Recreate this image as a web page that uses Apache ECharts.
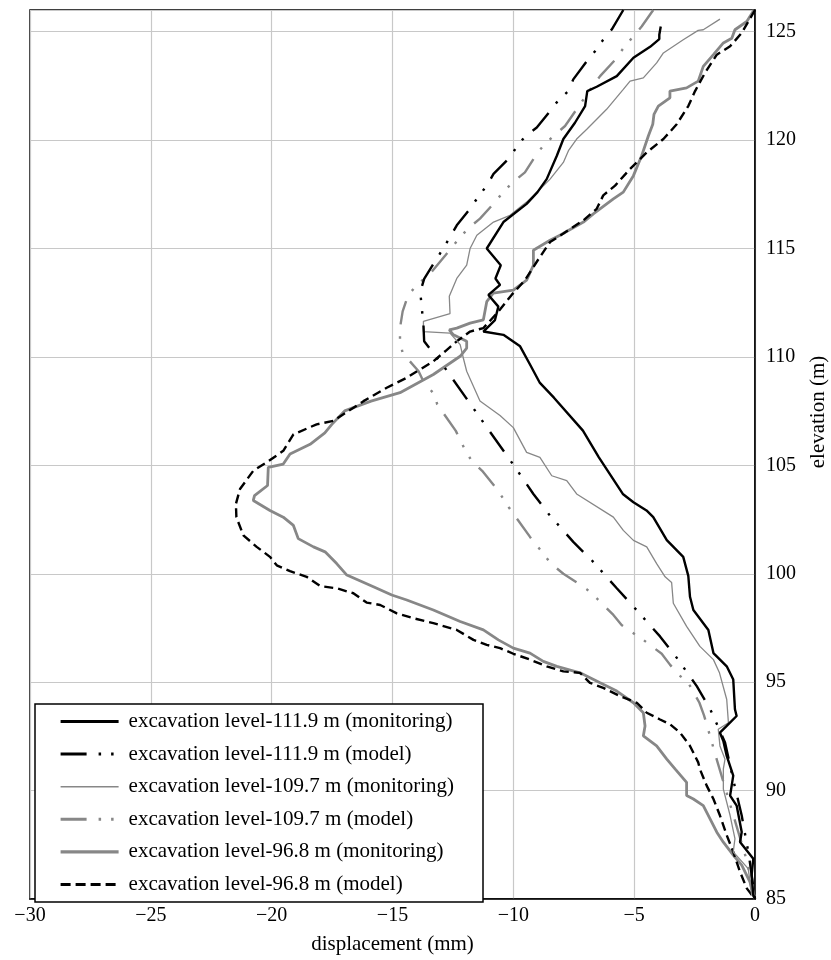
<!DOCTYPE html>
<html>
<head>
<meta charset="utf-8">
<script src="https://cdn.jsdelivr.net/npm/echarts@6/dist/echarts.min.js"></script>
<style>
html,body{margin:0;padding:0;background:#fff;}
#chart{width:831px;height:960px;}
</style>
</head>
<body>
<div id="chart"></div>
<script>
// Series data: [displacement (mm), elevation (m)]
const seriesNames = [
  'excavation level-111.9 m (monitoring)',
  'excavation level-111.9 m (model)',
  'excavation level-109.7 m (monitoring)',
  'excavation level-109.7 m (model)',
  'excavation level-96.8 m (monitoring)',
  'excavation level-96.8 m (model)'
];

const mon111 = [[-3.90,125.24],[-3.96,124.86],[-3.96,124.66],[-4.34,124.3],[-5.03,123.8],[-5.72,122.95],[-6.55,122.46],[-6.94,122.26],[-7.03,121.57],[-7.45,120.8],[-7.93,120.05],[-8.20,119.28],[-8.62,118.2],[-9.0,117.6],[-9.45,117.06],[-10.41,116.22],[-11.1,115.0],[-10.52,114.23],[-10.74,113.62],[-10.55,113.32],[-11.03,112.86],[-10.62,112.32],[-10.76,111.7],[-11.24,111.17],[-10.41,111.02],[-9.72,110.49],[-9.31,109.65],[-8.9,108.8],[-8.32,108.12],[-7.12,106.6],[-6.46,105.37],[-5.47,103.68],[-5.03,103.3],[-4.49,102.92],[-4.21,102.61],[-3.65,101.55],[-2.97,100.78],[-2.76,99.9],[-2.69,98.94],[-2.55,98.33],[-1.93,97.41],[-1.72,96.34],[-1.17,95.73],[-0.90,95.12],[-0.83,93.75],[-0.76,93.44],[-1.17,92.98],[-1.45,92.67],[-1.31,92.29],[-1.17,91.6],[-0.9,90.69],[-1.03,89.77],[-0.76,89.31],[-0.55,88.09],[-0.62,87.63],[-0.07,86.86],[-0.14,86.1],[-0.07,85.18],[0,85]];

const mod111 = [[-5.45,126],[-5.93,125.1],[-6.3,124.6],[-6.62,124.1],[-6.96,123.64],[-7.52,122.8],[-7.72,122.26],[-8.13,121.85],[-8.48,121.34],[-9.03,120.58],[-9.52,120.16],[-9.86,119.7],[-10.14,119.2],[-10.82,118.44],[-11.1,117.9],[-11.44,117.41],[-11.79,116.83],[-12.34,116.07],[-12.82,115.15],[-13.3,114.3],[-13.69,113.6],[-13.85,113.0],[-13.8,112.4],[-13.72,111.5],[-13.69,110.72],[-13.26,110.1],[-12.93,109.65],[-11.95,108.1],[-11.0,106.6],[-10.0,105.03],[-9.17,103.68],[-8.52,102.73],[-7.52,101.47],[-6.72,100.58],[-5.72,99.33],[-4.96,98.4],[-3.93,97.11],[-3.28,96.19],[-2.41,94.82],[-1.86,93.77],[-1.24,92.22],[-0.9,90.5],[-0.55,88.85],[-0.25,87],[0,85]];

const mon109 = [[-1.45,125.58],[-2.14,125.09],[-2.35,125.06],[-2.97,124.63],[-3.79,124.02],[-4.07,123.56],[-4.62,122.87],[-5.17,122.72],[-5.45,122.34],[-6.14,121.42],[-6.55,120.96],[-6.96,120.5],[-7.38,120.05],[-7.72,119.51],[-7.93,118.97],[-8.48,118.2],[-9.03,117.59],[-9.45,117.14],[-10.14,116.53],[-10.82,116.22],[-11.51,115.61],[-11.79,115.0],[-11.93,114.23],[-12.34,113.62],[-12.65,112.8],[-12.62,112.0],[-13.72,111.64],[-13.72,111.17],[-12.62,111.1],[-12.2,110.57],[-12.07,109.95],[-11.93,109.34],[-11.38,107.97],[-10.55,107.3],[-10.0,106.74],[-9.45,105.6],[-8.9,105.37],[-8.41,104.52],[-7.79,104.3],[-7.38,103.68],[-5.86,102.61],[-5.45,102.0],[-5.03,101.54],[-4.48,101.24],[-4.07,100.47],[-3.72,99.86],[-3.45,99.6],[-3.38,98.64],[-2.83,97.57],[-2.28,96.65],[-1.72,96.04],[-1.47,95.43],[-1.17,94.2],[-1.1,93.13],[-1.52,92.83],[-1.45,92.06],[-1.24,91.45],[-1.31,91.0],[-1.31,90.07],[-1.03,88.85],[-0.83,87.78],[-0.9,87.17],[-0.28,86.4],[-0.14,85.2],[0,85]];

const mod109 = [[-4.21,126],[-4.69,125.24],[-5.1,124.7],[-5.47,124.2],[-5.79,123.7],[-6.41,122.95],[-6.9,122.2],[-7.38,121.42],[-7.86,120.65],[-8.29,120.23],[-8.72,119.8],[-9.03,119.36],[-9.52,118.51],[-10.0,118.08],[-10.41,117.62],[-10.76,117.14],[-11.38,116.38],[-11.79,116.0],[-12.2,115.53],[-12.8,114.7],[-13.4,113.9],[-14.0,113.3],[-14.35,112.86],[-14.58,112.1],[-14.69,111.33],[-14.69,110.72],[-14.58,110.18],[-13.92,109.34],[-13.69,108.8],[-13.26,108.27],[-13.15,107.81],[-12.38,106.59],[-12.05,105.83],[-11.73,105.21],[-11.29,104.75],[-10.63,103.83],[-10.19,103.07],[-9.31,101.7],[-8.44,100.47],[-7.93,100.0],[-7.42,99.63],[-6.96,99.28],[-6.55,98.87],[-5.86,98.1],[-5.52,97.64],[-5.08,97.29],[-4.62,96.95],[-3.86,96.31],[-3.52,95.81],[-3.17,95.35],[-2.76,94.97],[-2.3,94.05],[-2.11,93.47],[-1.96,92.9],[-1.6,91.5],[-1.2,90],[-0.8,88.5],[-0.4,87],[0,85]];

const mon96 = [[-0.04,126],[-0.34,125.47],[-0.83,125.09],[-0.96,124.7],[-1.31,124.48],[-1.72,123.94],[-2.14,123.4],[-2.35,122.72],[-2.83,122.41],[-3.52,122.26],[-3.52,121.95],[-4.0,121.57],[-4.18,121.19],[-4.23,120.73],[-4.41,120.2],[-4.69,119.28],[-5.03,118.36],[-5.45,117.6],[-5.86,117.29],[-6.69,116.6],[-7.1,116.22],[-8.07,115.61],[-8.48,115.38],[-9.17,114.92],[-9.17,114.23],[-9.45,113.54],[-10.0,113.08],[-10.83,112.94],[-11.1,112.55],[-11.24,111.71],[-11.79,111.56],[-12.34,111.33],[-12.65,111.25],[-12.48,111.02],[-11.93,110.72],[-11.93,110.41],[-12.2,110.03],[-13.31,109.19],[-14.69,108.35],[-15.89,107.96],[-16.98,107.51],[-17.51,106.89],[-17.8,106.5],[-18.41,105.97],[-19.24,105.52],[-19.52,105.06],[-20.14,104.91],[-20.17,104.07],[-20.71,103.6],[-20.76,103.38],[-20.07,102.92],[-19.52,102.61],[-19.1,102.23],[-18.9,101.62],[-18.27,101.24],[-17.79,101.01],[-17.31,100.47],[-16.89,99.94],[-15.79,99.4],[-15.03,99.02],[-14.41,98.79],[-13.31,98.33],[-12.2,97.8],[-11.24,97.41],[-10.62,96.95],[-10.0,96.57],[-9.31,96.34],[-8.76,95.96],[-8.2,95.73],[-7.24,95.43],[-6.41,94.97],[-5.72,94.59],[-5.03,94.05],[-4.62,93.59],[-4.55,92.98],[-4.62,92.52],[-4.07,92.06],[-3.65,91.45],[-3.31,91.0],[-2.83,90.38],[-2.83,89.77],[-2.55,89.61],[-2.14,89.31],[-1.86,88.7],[-1.58,88.08],[-1.31,87.62],[-0.9,87.02],[-0.55,86.56],[-0.21,85.79],[-0.07,85.18],[0,85]];

const mod96 = [[0,126],[-0.55,124.94],[-1.03,124.33],[-1.58,123.94],[-2.07,123.1],[-2.48,122.26],[-2.76,121.57],[-3.24,120.73],[-3.79,120.05],[-4.48,119.43],[-5.17,118.67],[-5.79,117.9],[-6.28,117.45],[-6.55,116.83],[-7.1,116.3],[-7.93,115.69],[-8.48,115.3],[-9.03,114.39],[-9.52,113.54],[-10.07,112.86],[-10.62,112.09],[-11.24,111.33],[-11.79,111.17],[-12.34,110.72],[-12.82,110.26],[-13.31,109.8],[-14.41,109.04],[-15.24,108.58],[-16.2,107.96],[-17.45,107.05],[-18.14,106.89],[-19.1,106.43],[-19.52,105.67],[-20.2,105.14],[-20.76,104.75],[-21.31,103.91],[-21.48,103.22],[-21.46,102.61],[-21.17,101.77],[-20.62,101.24],[-20.07,100.78],[-19.79,100.39],[-19.24,100.12],[-18.55,99.86],[-17.99,99.43],[-17.31,99.33],[-16.62,99.1],[-16.07,98.67],[-15.51,98.56],[-14.82,98.17],[-14.14,97.95],[-13.31,97.72],[-12.34,97.41],[-11.65,96.95],[-11.1,96.72],[-10.55,96.57],[-10.0,96.31],[-9.31,96.04],[-8.62,95.73],[-7.93,95.5],[-7.24,95.43],[-6.83,94.97],[-6.28,94.74],[-5.59,94.36],[-4.89,94.05],[-4.48,93.59],[-3.93,93.28],[-3.52,93.06],[-3.1,92.67],[-2.69,92.06],[-2.35,91.3],[-2.28,90.99],[-2.0,90.23],[-1.72,89.61],[-1.45,88.85],[-1.17,87.94],[-0.9,87.17],[-0.62,86.25],[-0.34,85.49],[0,85]];

const FONT = 'Liberation Serif';
const GRAY = '#878787';
const dashDotDot = [24, 12, 2.5, 11, 2.5, 12];
const legendDashDotDot = [26, 12, 2.5, 10, 2.5, 12];

function mk(name, data, color, width, type) {
  return {
    name: name, type: 'line', data: data, symbol: 'none', showSymbol: false,
    lineStyle: { color: color, width: width, type: type, cap: 'butt' },
    itemStyle: { color: color },
    emphasis: { disabled: true }, animation: false
  };
}

const legendLine = [
  { color: '#000', width: 3, type: 'solid' },
  { color: '#000', width: 3, type: legendDashDotDot },
  { color: GRAY, width: 1.5, type: 'solid' },
  { color: GRAY, width: 3, type: legendDashDotDot },
  { color: GRAY, width: 3.2, type: 'solid' },
  { color: '#000', width: 3, type: [10, 5] }
];

const chart = echarts.init(document.getElementById('chart'), null, { renderer: 'canvas' });
chart.setOption({
  animation: false,
  backgroundColor: '#fff',
  grid: { left: 30, right: 76, top: 10, bottom: 56, show: true, borderColor: '#000', borderWidth: 1.5 },
  xAxis: {
    type: 'value', min: -30, max: 0, interval: 5,
    axisLine: { show: true, onZero: false, lineStyle: { color: '#000', width: 1.5 } },
    axisTick: { show: false },
    splitLine: { show: true, lineStyle: { color: '#c8c8c8', width: 1.2 } },
    axisLabel: { color: '#000', fontFamily: FONT, fontSize: 20, margin: 7,
      formatter: v => (v < 0 ? '\u2212' + Math.abs(v) : String(v)) },
    name: 'displacement (mm)', nameLocation: 'middle', nameGap: 35,
    nameTextStyle: { color: '#000', fontFamily: FONT, fontSize: 21 }
  },
  yAxis: {
    type: 'value', min: 85, max: 126, interval: 5, position: 'right',
    axisLine: { show: true, onZero: false, lineStyle: { color: '#000', width: 1.5 } },
    axisTick: { show: false },
    splitLine: { show: true, lineStyle: { color: '#c8c8c8', width: 1.2 } },
    axisLabel: { color: '#000', fontFamily: FONT, fontSize: 20, margin: 11, showMaxLabel: false }
  },
  legend: {
    data: seriesNames.map((n, i) => ({ name: n, lineStyle: legendLine[i] })),
    orient: 'vertical', left: 35, top: 704,
    itemWidth: 58, itemHeight: 14, itemGap: 11.6,
    padding: [7, 29, 7, 24],
    backgroundColor: '#fff', borderColor: '#000', borderWidth: 1.5,
    itemStyle: { color: 'rgba(0,0,0,0)', borderColor: 'rgba(0,0,0,0)', borderWidth: 0, opacity: 0 },
    textStyle: { color: '#000', fontFamily: FONT, fontSize: 21, padding: [0, 0, 0, 5] },
    selectedMode: false
  },
  graphic: [{
    type: 'text', x: 818, y: 412, rotation: Math.PI / 2,
    style: { text: 'elevation (m)', font: '21px "Liberation Serif"', fill: '#000', align: 'center', verticalAlign: 'middle' }
  }],
  series: [
    mk(seriesNames[4], mon96, GRAY, 2.8, 'solid'),
    mk(seriesNames[5], mod96, '#000', 2.4, [9, 5]),
    mk(seriesNames[2], mon109, GRAY, 1.3, 'solid'),
    mk(seriesNames[3], mod109, GRAY, 2.4, dashDotDot),
    mk(seriesNames[1], mod111, '#000', 2.4, dashDotDot),
    mk(seriesNames[0], mon111, '#000', 2.4, 'solid')
  ]
});
</script>
</body>
</html>
